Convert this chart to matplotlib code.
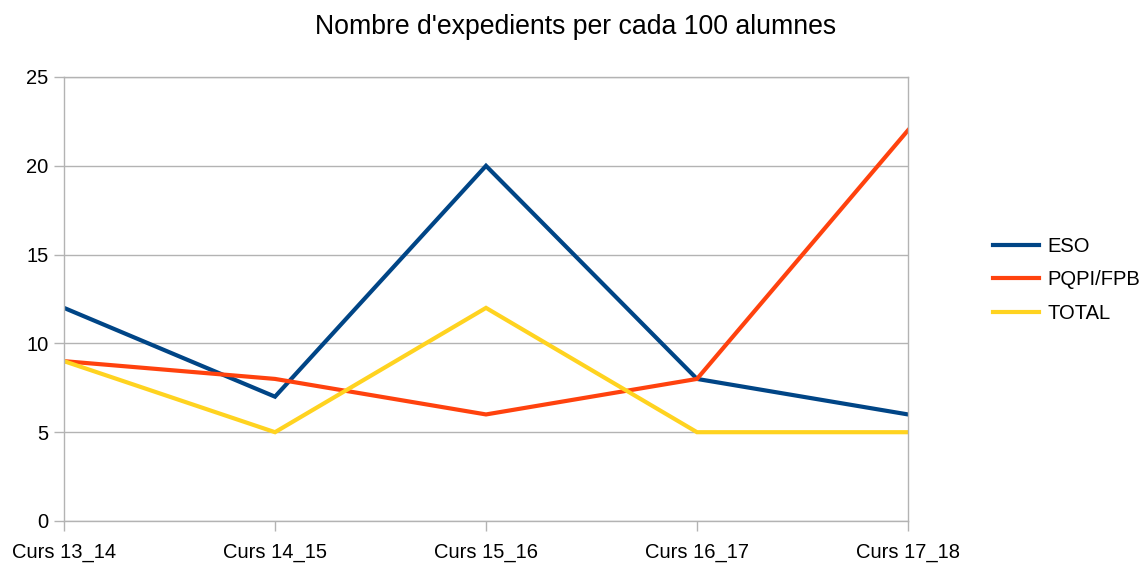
import matplotlib
matplotlib.use("Agg")
import matplotlib.pyplot as plt

categories = ["Curs 13_14", "Curs 14_15", "Curs 15_16", "Curs 16_17", "Curs 17_18"]
eso = [12, 7, 20, 8, 6]
pqpi = [9, 8, 6, 8, 22]
total = [9, 5, 12, 5, 5]
series_names = ["ESO", "PQPI/FPB", "TOTAL"]
colors = ["#004586", "#ff420e", "#ffd320"]

plt.rcParams['font.family'] = ['Liberation Sans', 'DejaVu Sans']

fig = plt.figure(figsize=(11.48, 5.64), dpi=100)
ax = fig.add_axes([64/1148, 1 - 521/564, (908 - 64)/1148, (521 - 77)/564])

x = list(range(len(categories)))
for vals, name, c in zip([eso, pqpi, total], series_names, colors):
    ax.plot(x, vals, color=c, linewidth=3, label=name, solid_joinstyle='miter')

ax.set_xlim(0, len(categories) - 1)
ax.set_ylim(0, 25)
ax.set_yticks([0, 5, 10, 15, 20, 25])
ax.set_xticks(x)
ax.set_xticklabels(categories)
ax.yaxis.grid(True, color="#b3b3b3", linewidth=1)
ax.set_axisbelow(True)
for s in ax.spines.values():
    s.set_color("#b3b3b3")
    s.set_linewidth(1)
ax.tick_params(axis='both', colors="#b3b3b3", labelcolor="black", labelsize=14.5, length=7, width=1)
ax.tick_params(axis='x', pad=9)
ax.tick_params(axis='y', pad=4)

fig.suptitle("Nombre d'expedients per cada 100 alumnes", fontsize=19.2, x=576/1148, y=1 - 27/564, va='center')

leg = ax.legend(loc='center left', bbox_to_anchor=(1.079, 0.543), frameon=False, fontsize=14.5,
                handlelength=2.3, handletextpad=0.4, labelspacing=0.72)

fig.savefig("out.png", dpi=100)
